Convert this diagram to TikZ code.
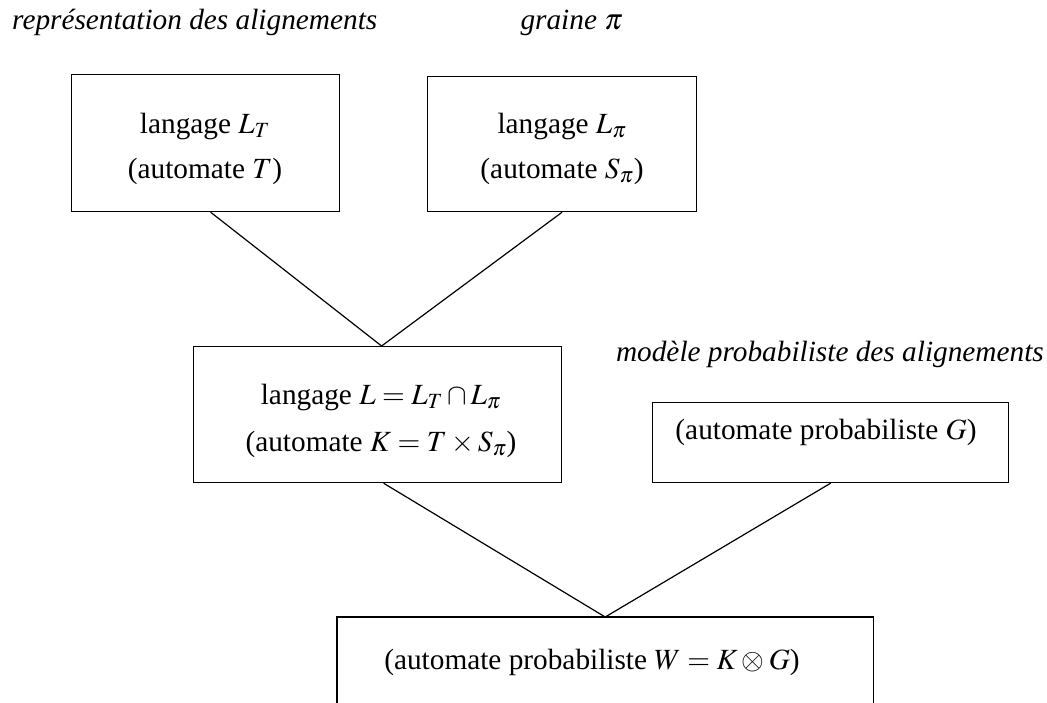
\documentclass[tikz,border=0pt]{standalone}
\usepackage{mathptmx}
\usepackage[no-math]{fontspec}
\setmainfont{Liberation Serif}
\begin{document}
\begin{tikzpicture}[x=1pt,y=-1pt,
  box/.style={draw,line width=1.2pt,rectangle,inner sep=0pt,anchor=north west},
  txt/.style={anchor=base,inner sep=0pt,font=\fontsize{29.3}{32}\selectfont},
  lab/.style={inner sep=0pt,font=\fontsize{29.3}{32}\selectfont\itshape},
  conn/.style={line width=1.2pt}]
\useasboundingbox (0,0) rectangle (1047,702);
% boxes
\node[box,minimum width=268pt,minimum height=137pt] (b1) at (71,74) {};
\node[box,minimum width=269pt,minimum height=135pt] (b2) at (427,76) {};
\node[box,minimum width=368pt,minimum height=136pt] (k) at (193,346) {};
\node[box,minimum width=356pt,minimum height=80pt] (g) at (652,402) {};
\node[draw=none,rectangle,inner sep=0pt,anchor=north west,minimum width=536pt,minimum height=90pt] (w) at (337,617) {};
\draw[conn] (w.south west) -- (w.north west) -- (w.north east) -- (w.south east);
% texts
\node[txt] (t1a) at (205,133) {langage $L_T$};
\node[txt] (t1b) at (205,178) {(automate $T$)};
\node[txt] (t2a) at (562,133) {langage $L_\pi$};
\node[txt] (t2b) at (562,178) {(automate $S_\pi$)};
\node[txt] (tka) at (381,404) {langage $L=L_T\cap L_\pi$};
\node[txt] (tkb) at (381,451) {(automate $K=T\times S_\pi$)};
\node[txt] (tg) at (826,439) {(automate probabiliste $G$)};
\node[txt] (tw) at (592,669) {(automate probabiliste $W=K\otimes G$)};
% labels
\node[lab,anchor=base west] (l1) at (12,29) {représentation des alignements};
\node[lab,anchor=base east] (l2) at (623,29) {graine $\pi$};
\node[lab,anchor=base east] (l3) at (1044,361) {modèle probabiliste des alignements};
% connectors
\coordinate (j1) at ([xshift=4pt]k.north);
\draw[conn] ([xshift=5pt]b1.south) -- (j1);
\draw[conn] (b2.south) -- (j1);
\coordinate (j2) at (w.north);
\draw[conn] ([xshift=6pt]k.south) -- (j2);
\draw[conn] (g.south) -- (j2);
\end{tikzpicture}
\end{document}
